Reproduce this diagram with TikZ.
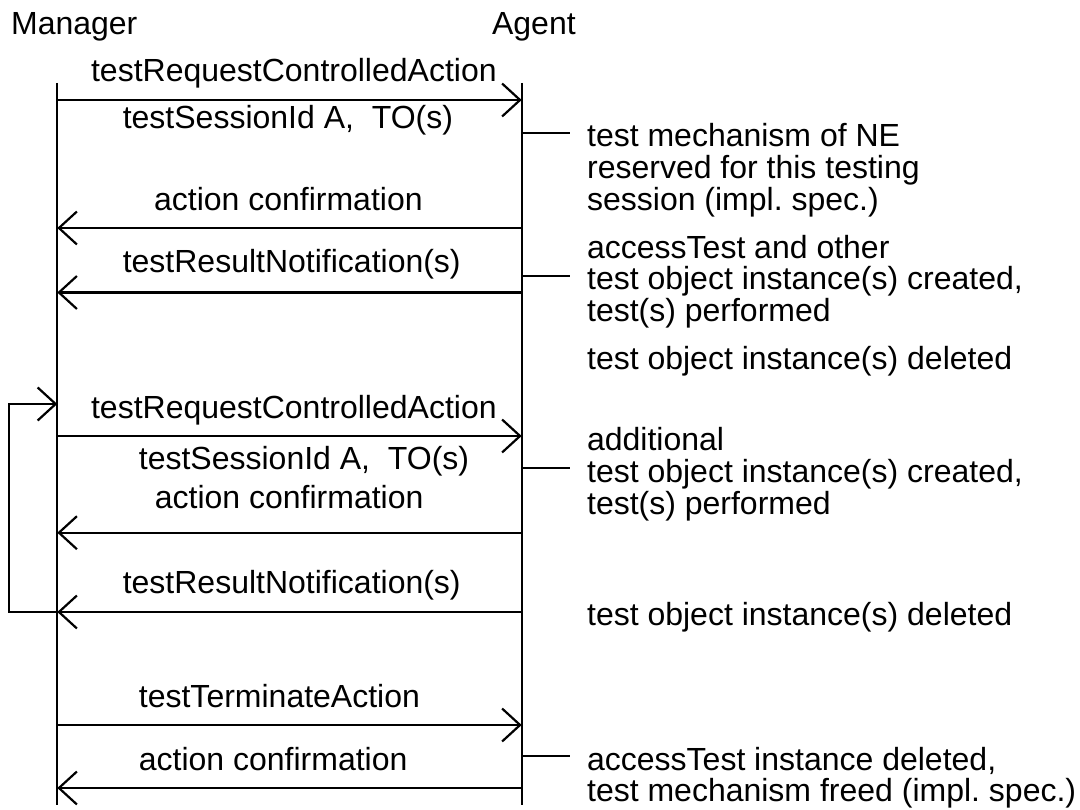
\documentclass[tikz,border=0pt]{standalone}
\usepackage{fontspec}
\setmainfont{Liberation Sans}
\usetikzlibrary{arrows.meta}

\begin{document}
\begin{tikzpicture}[x=1pt, y=-1pt, line width=2.2pt,
      txt/.style={anchor=base west, inner sep=0pt, font=\fontsize{32}{31.7}\selectfont}, % all texts
      note/.style={txt, align=left},                                 % remarks beside the agent, placed by their last line
      msg/.style={-{Straight Barb[length=18pt, width=33pt]}}]        % message arrow
    \useasboundingbox (0,0) rectangle (1080,810);
    \node[txt] (mgr) at (10,35) {Manager};
    \node[txt] (agt) at (491,35) {Agent};
    % lifelines
    \coordinate (mtop) at (57.3,83);  \coordinate (mbot) at (57.3,805);
    \coordinate (atop) at (521.7,83); \coordinate (abot) at (521.7,805);
    \draw (mtop) -- (mbot);
    \draw (atop) -- (abot);
    % points of the messages on both lifelines
    \foreach \n/\y in {1/100, 2/228, 3/292.5, 4/436, 5/532.7, 6/612, 7/725, 8/788}{
      \coordinate (m\n) at (57.3,\y);
      \coordinate (a\n) at (521.7,\y);}
    \coordinate (mloop) at (57.3,404);
    % points of the remarks on the agent lifeline
    \foreach \n/\y in {1/132.7, 2/276, 3/468.3, 4/756}
      \coordinate (t\n) at (521.7,\y);
    % messages
    \draw[msg] (m1) -- (a1);
    \draw[msg] (a2) -- (m2);
    \draw[msg] (a3) -- (m3);
    \draw[msg] (m4) -- (a4);
    \draw[msg] (a5) -- (m5);
    \draw[msg] (a6) -- (m6);
    \draw[msg] (m7) -- (a7);
    \draw[msg] (a8) -- (m8);
    \draw[msg] (m6) -- ++(-48.3,0) |- (mloop);                     % repeat loop
    % message labels
    \node[txt] (req1) at (90,82) {testRequestControlledAction};
    \node[txt] (par1) at (121.7,128.3) {testSessionId A,\ \ TO(s)};
    \node[txt] (conf1) at (153,211) {action confirmation};
    \node[txt] (res1) at (121.7,273) {testResultNotification(s)};
    \node[txt] (req2) at (90,419) {testRequestControlledAction};
    \node[txt] (par2) at (137.8,469) {testSessionId A,\ \ TO(s)};
    \node[txt] (conf2) at (153.8,508) {action confirmation};
    \node[txt] (res2) at (121.7,593) {testResultNotification(s)};
    \node[txt] (term) at (137.8,707) {testTerminateAction};
    \node[txt] (conf3) at (137.8,770) {action confirmation};
    % remarks
    \foreach \n in {1,...,4}
      \draw (t\n) -- ++(48,0);
    \node[note] (rsv) at (586,210.1) {test mechanism of NE\\reserved for this testing\\session (impl.\ spec.)};
    \node[note] (crt1) at (586,321.7) {accessTest and other\\test object instance(s) created,\\test(s) performed};
    \node[txt] (del1) at (586,370) {test object instance(s) deleted};
    \node[note] (crt2) at (586,514.1) {additional\\test object instance(s) created,\\test(s) performed};
    \node[txt] (del2) at (586,625) {test object instance(s) deleted};
    \node[note] (free) at (586,801.7) {accessTest instance deleted,\\test mechanism freed (impl.\ spec.)};
  \end{tikzpicture}
\end{document}
